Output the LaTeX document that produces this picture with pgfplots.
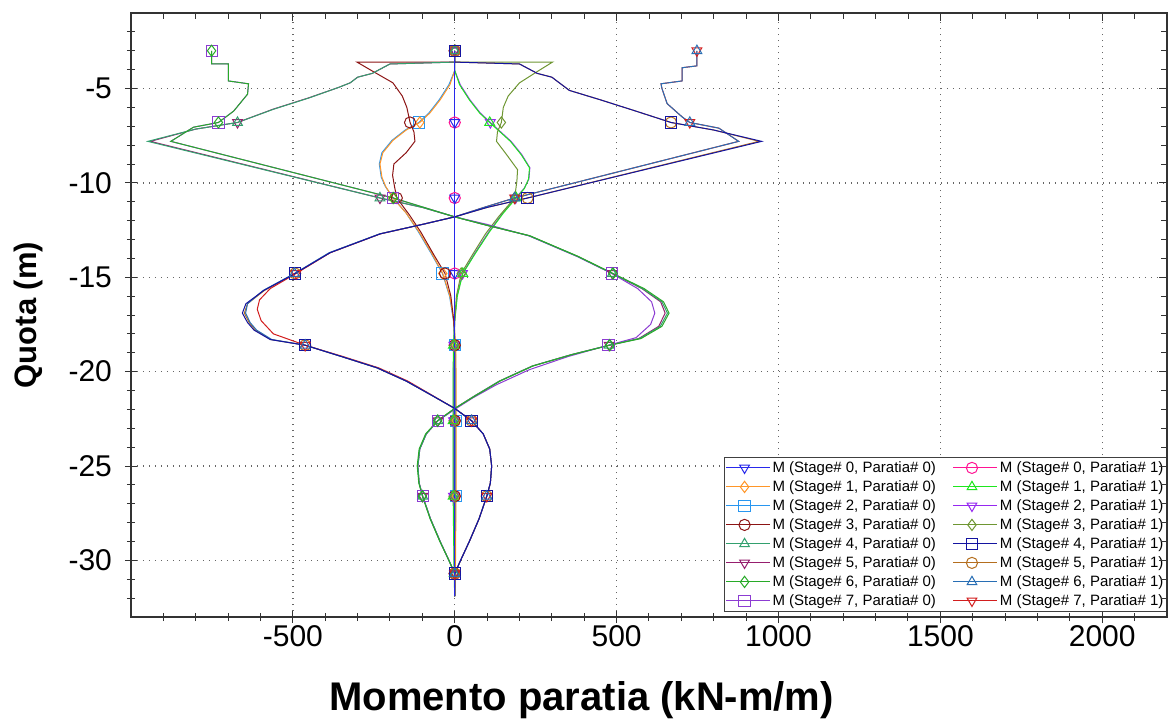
\documentclass[border=0pt]{standalone}
\usepackage{fontspec}
\setmainfont{Liberation Sans}
\usepackage{pgfplots}
\pgfplotsset{compat=1.18}

\definecolor{c0a}{RGB}{40,40,235}
\definecolor{c0b}{RGB}{255,20,147}
\definecolor{c1a}{RGB}{255,150,40}
\definecolor{c1b}{RGB}{30,230,30}
\definecolor{c2a}{RGB}{40,150,240}
\definecolor{c2b}{RGB}{150,40,240}
\definecolor{c3a}{RGB}{140,20,20}
\definecolor{c3b}{RGB}{110,150,50}
\definecolor{c4a}{RGB}{50,160,110}
\definecolor{c4b}{RGB}{20,20,160}
\definecolor{c5a}{RGB}{150,30,110}
\definecolor{c5b}{RGB}{180,110,30}
\definecolor{c6a}{RGB}{40,170,40}
\definecolor{c6b}{RGB}{40,110,180}
\definecolor{c7a}{RGB}{140,60,210}
\definecolor{c7b}{RGB}{210,30,30}

\pgfplotsset{
  ln/.style={no marks, forget plot, line width=0.5pt},
  mk/.style={only marks, forget plot, mark size=2.8pt, line width=0.5pt, mark options={solid, fill=none}},
  tdown/.style={mark=triangle, every mark/.append style={rotate=180}},
  lg/.style={line width=0.5pt, mark size=2.8pt, mark options={solid, fill=none}},
}

\begin{document}
\begin{tikzpicture}
\begin{axis}[
  scale only axis, width=518pt, height=302pt,
  xmin=-1000, xmax=2200, ymin=-33, ymax=-1,
  xtick={-500,0,500,1000,1500,2000},
  ytick={-30,-25,-20,-15,-10,-5},
  minor xtick={-900,-800,...,2100},
  minor ytick={-32,-31,...,-2},
  xtick pos=left, ytick pos=left, tick align=center,
  major tick length=6pt, minor tick length=4pt,
  tick style={black!80, line width=0.5pt},
  axis line style={black!80, line width=0.7pt},
  grid=major,
  major grid style={black!60, line width=0.7pt, dash pattern=on 0.7pt off 2.3pt},
  ticklabel style={font=\fontsize{15}{17}\selectfont},
  /pgf/number format/assume math mode=true,
  /pgf/number format/1000 sep={},
  yticklabel style={xshift=-3pt},
  xticklabel shift=-2.4pt,
  xlabel={\textbf{Momento paratia (kN-m/m)}},
  ylabel={\textbf{Quota (m)}},
  xlabel style={at={(axis description cs:0.435,-0.138)}, anchor=center, font=\fontsize{20}{22}\selectfont},
  ylabel style={at={(axis description cs:-0.0994,0.5)}, anchor=center, font=\fontsize{15.5}{18}\selectfont},
  legend columns=2,
  legend cell align=left,
  legend image code/.code={\path (0pt,0pt) -- (22pt,0pt); \draw[mark repeat=2,mark phase=2] plot coordinates {(0pt,0pt) (9.25pt,0pt) (18.5pt,0pt)};},
  legend style={at={(1,0)}, anchor=south east, yshift=2.5pt, draw=black!75, line width=0.6pt, fill=white,
    font=\fontsize{7.5}{9}\selectfont, inner xsep=0.5pt, inner ysep=0.5pt,
    nodes={inner xsep=1pt, inner ysep=1pt, text height=6pt, text depth=1.5pt}, row sep=0pt,
    /tikz/every even column/.append style={column sep=7.5pt}},
]
% ---------------- lines ----------------
\addplot[ln, c0b] coordinates {(0,-3) (0,-31.9)};
\addplot[ln, c2a] coordinates {(0,-3) (0,-4.05) (-18,-4.8) (-48,-5.6) (-80,-6.3) (-111,-6.8) (-153,-7.2) (-194,-7.75) (-225,-8.4) (-233,-9.0) (-227,-9.7) (-214,-10.2) (-190,-10.8) (-150,-11.6) (-112,-12.6) (-74,-13.7) (-38,-14.8) (-16,-16.0) (-4,-17.3) (2,-18.6) (3,-20) (3,-26.6) (1,-30.7) (0,-31.9)};
\addplot[ln, c1a] coordinates {(0,-3) (0,-4.05) (-15,-4.8) (-45,-5.6) (-77,-6.3) (-108,-6.8) (-150,-7.2) (-191,-7.75) (-222,-8.4) (-231,-9.0) (-225,-9.7) (-213,-10.2) (-191,-10.8) (-150,-11.6) (-110,-12.6) (-72,-13.7) (-37,-14.8) (-15,-16.0) (-3,-17.3) (3,-18.6) (4,-20) (4,-26.6) (2,-30.7) (0,-31.9)};
\addplot[ln, c3a] coordinates {(0,-3) (0,-3.6) (-302,-3.6) (-262,-4.0) (-191,-4.7) (-162,-5.4) (-148,-6.0) (-138,-6.8) (-126,-7.3) (-123,-7.8) (-150,-8.4) (-188,-9.0) (-192,-9.6) (-186,-10.2) (-179,-10.8) (-140,-11.7) (-105,-12.6) (-65,-13.8) (-30,-14.8) (-12,-16.0) (-3,-17.3) (0,-18.6) (0,-31.9)};
\addplot[ln, c2b] coordinates {(0,-3) (0,-4.05) (17,-4.8) (47,-5.6) (79,-6.3) (110,-6.8) (142,-7.3) (174,-7.8) (207,-8.5) (232,-9.2) (229,-9.8) (214,-10.3) (188,-10.8) (148,-11.6) (105,-12.6) (63,-13.7) (24,-14.8) (7,-16.0) (0,-17.3) (-3,-18.6) (-4,-20) (-4,-26.6) (-1,-30.7) (0,-31.9)};
\addplot[ln, c1b] coordinates {(0,-3) (0,-4.05) (15,-4.8) (45,-5.6) (77,-6.3) (108,-6.8) (140,-7.3) (172,-7.8) (205,-8.5) (231,-9.2) (228,-9.8) (215,-10.3) (190,-10.8) (150,-11.6) (107,-12.6) (65,-13.7) (25,-14.8) (8,-16.0) (0,-17.3) (-4,-18.6) (-5,-20) (-5,-26.6) (-2,-30.7) (0,-31.9)};
\addplot[ln, c3b] coordinates {(0,-3) (0,-3.6) (302,-3.6) (255,-4.1) (200,-4.7) (165,-5.4) (150,-6.0) (144,-6.8) (132,-7.3) (129,-7.8) (160,-8.5) (194,-9.3) (192,-9.9) (185,-10.8) (135,-11.8) (95,-12.7) (55,-13.8) (20,-14.8) (5,-16.0) (0,-17.3) (0,-31.9)};
% big P0
\addplot[ln, c5a] coordinates {(0,-3) (0,-3.6) (-200,-3.7) (-255,-4.2) (-300,-4.4) (-323,-4.7) (-360,-4.95) (-452,-5.5) (-562,-6.1) (-671,-6.8) (-800,-7.15) (-940,-7.8) (-231,-10.8) (-100,-11.3) (0,-11.8) (100,-12.25) (230,-12.8) (380,-13.9) (487,-14.8) (578,-15.6) (636,-16.3) (650,-16.9) (630,-17.6) (568,-18.25) (477,-18.6) (360,-19.1) (240,-19.7) (138,-20.5) (60,-21.3) (0,-21.95) (-52,-22.6) (-88,-23.3) (-108,-24.1) (-114,-25.0) (-110,-25.9) (-99,-26.6) (-75,-27.8) (-45,-29.0) (-18,-30.0) (0,-30.7) (0,-31.9)};
\addplot[ln, c7a] coordinates {(-751,-3) (-751,-3.7) (-699,-3.7) (-699,-4.6) (-637,-4.75) (-640,-5.3) (-683,-6.2) (-730,-6.8) (-807,-7.05) (-877,-7.8) (-190,-10.8) (-95,-11.3) (0,-11.8) (100,-12.2) (228,-12.8) (378,-13.9) (485,-14.8) (565,-15.6) (608,-16.3) (618,-16.9) (605,-17.5) (560,-18.2) (475,-18.6) (350,-19.2) (230,-19.9) (128,-20.7) (55,-21.4) (0,-22.0) (-52,-22.6) (-88,-23.3) (-108,-24.1) (-114,-25.0) (-110,-25.9) (-99,-26.6) (-75,-27.8) (-45,-29.0) (-18,-30.0) (0,-30.7) (0,-31.9)};
\addplot[ln, c4a] coordinates {(0,-3) (0,-3.6) (-200,-3.7) (-255,-4.2) (-300,-4.4) (-323,-4.7) (-360,-4.95) (-450,-5.5) (-560,-6.1) (-671,-6.8) (-800,-7.15) (-948,-7.8) (-231,-10.8) (-100,-11.3) (0,-11.8) (100,-12.25) (230,-12.8) (380,-13.9) (487,-14.8) (580,-15.6) (640,-16.3) (657,-16.9) (635,-17.6) (570,-18.25) (477,-18.6) (360,-19.1) (240,-19.7) (138,-20.5) (60,-21.3) (0,-21.95) (-52,-22.6) (-88,-23.3) (-108,-24.1) (-114,-25.0) (-110,-25.9) (-99,-26.6) (-75,-27.8) (-45,-29.0) (-18,-30.0) (0,-30.7) (0,-31.9)};
\addplot[ln, c6a] coordinates {(-751,-3) (-751,-3.7) (-699,-3.7) (-699,-4.6) (-637,-4.75) (-640,-5.3) (-683,-6.2) (-730,-6.8) (-807,-7.05) (-877,-7.8) (-190,-10.8) (-95,-11.3) (0,-11.8) (100,-12.25) (232,-12.8) (382,-13.9) (489,-14.8) (585,-15.6) (645,-16.3) (662,-16.9) (640,-17.6) (575,-18.25) (479,-18.6) (362,-19.1) (242,-19.7) (140,-20.5) (62,-21.3) (0,-21.95) (-53,-22.6) (-90,-23.3) (-110,-24.1) (-116,-25.0) (-111,-25.9) (-100,-26.6) (-76,-27.8) (-46,-29.0) (-18,-30.0) (0,-30.7) (0,-31.9)};
% big P1
\addplot[ln, c5b] coordinates {(0,-3) (0,-3.6) (200,-3.7) (255,-4.2) (300,-4.4) (323,-4.7) (354,-5.1) (450,-5.6) (560,-6.2) (668,-6.8) (800,-7.2) (940,-7.8) (225,-10.8) (100,-11.3) (0,-11.8) (-100,-12.2) (-230,-12.7) (-385,-13.7) (-493,-14.8) (-588,-15.7) (-640,-16.4) (-650,-16.9) (-635,-17.4) (-616,-17.8) (-568,-18.3) (-462,-18.6) (-350,-19.2) (-240,-19.8) (-150,-20.5) (-77,-21.2) (0,-21.95) (52,-22.6) (88,-23.3) (108,-24.1) (114,-25.0) (110,-25.9) (99,-26.6) (75,-27.8) (45,-29.0) (18,-30.0) (0,-30.7) (0,-31.9)};
\addplot[ln, c7b] coordinates {(748,-3) (748,-3.8) (702,-3.9) (702,-4.6) (637,-4.75) (640,-5.0) (656,-5.8) (702,-6.5) (726,-6.8) (816,-7.1) (877,-7.8) (185,-10.8) (90,-11.3) (0,-11.8) (-100,-12.2) (-230,-12.7) (-385,-13.7) (-490,-14.8) (-570,-15.6) (-603,-16.2) (-610,-16.7) (-598,-17.3) (-560,-18.0) (-462,-18.6) (-345,-19.2) (-235,-19.8) (-145,-20.5) (-75,-21.2) (0,-21.95) (52,-22.6) (88,-23.3) (108,-24.1) (114,-25.0) (110,-25.9) (99,-26.6) (75,-27.8) (45,-29.0) (18,-30.0) (0,-30.7) (0,-31.9)};
\addplot[ln, c6b] coordinates {(748,-3) (748,-3.8) (702,-3.9) (702,-4.6) (637,-4.75) (640,-5.0) (656,-5.8) (702,-6.5) (726,-6.8) (816,-7.1) (877,-7.8) (185,-10.8) (90,-11.3) (0,-11.8) (-100,-12.2) (-232,-12.7) (-388,-13.7) (-495,-14.8) (-592,-15.7) (-640,-16.4) (-646,-16.9) (-632,-17.4) (-612,-17.8) (-565,-18.3) (-462,-18.6) (-350,-19.2) (-240,-19.8) (-150,-20.5) (-77,-21.2) (0,-21.95) (52,-22.6) (88,-23.3) (108,-24.1) (114,-25.0) (110,-25.9) (99,-26.6) (75,-27.8) (45,-29.0) (18,-30.0) (0,-30.7) (0,-31.9)};
\addplot[ln, c4b] coordinates {(0,-3) (0,-3.6) (200,-3.7) (255,-4.2) (300,-4.4) (323,-4.7) (354,-5.1) (450,-5.6) (560,-6.2) (668,-6.8) (800,-7.2) (948,-7.8) (225,-10.8) (100,-11.3) (0,-11.8) (-100,-12.2) (-230,-12.7) (-385,-13.7) (-493,-14.8) (-590,-15.7) (-645,-16.4) (-656,-16.9) (-640,-17.4) (-620,-17.8) (-570,-18.3) (-462,-18.6) (-350,-19.2) (-240,-19.8) (-150,-20.5) (-77,-21.2) (0,-21.95) (52,-22.6) (88,-23.3) (108,-24.1) (114,-25.0) (110,-25.9) (99,-26.6) (75,-27.8) (45,-29.0) (18,-30.0) (0,-30.7) (0,-31.9)};
\addplot[ln, c0a] coordinates {(0,-3) (0,-31.9)};
% ---------------- marks ----------------
\addplot[mk, c0b, mark=o] coordinates {(0,-3)(0,-6.8)(0,-10.8)(0,-14.8)(0,-18.6)(0,-22.6)(0,-26.6)(0,-30.7)};
\addplot[mk, c0a, tdown] coordinates {(0,-3)(0,-6.8)(0,-10.8)(0,-14.8)(0,-18.6)(0,-22.6)(0,-26.6)(0,-30.7)};
\addplot[mk, c2a, mark=square] coordinates {(0,-3)(-111,-6.8)(-190,-10.8)(-38,-14.8)(2,-18.6)(3,-22.6)(3,-26.6)(1,-30.7)};
\addplot[mk, c1a, mark=diamond] coordinates {(0,-3)(-108,-6.8)(-191,-10.8)(-37,-14.8)(3,-18.6)(4,-22.6)(4,-26.6)(2,-30.7)};
\addplot[mk, c3a, mark=o] coordinates {(0,-3)(-138,-6.8)(-179,-10.8)(-30,-14.8)(0,-18.6)(0,-22.6)(0,-26.6)(0,-30.7)};
\addplot[mk, c2b, tdown] coordinates {(0,-3)(110,-6.8)(188,-10.8)(24,-14.8)(-3,-18.6)(-4,-22.6)(-4,-26.6)(-1,-30.7)};
\addplot[mk, c1b, mark=triangle] coordinates {(0,-3)(108,-6.8)(190,-10.8)(25,-14.8)(-4,-18.6)(-5,-22.6)(-5,-26.6)(-2,-30.7)};
\addplot[mk, c3b, mark=diamond] coordinates {(0,-3)(144,-6.8)(185,-10.8)(20,-14.8)(0,-18.6)(0,-22.6)(0,-26.6)(0,-30.7)};
\addplot[mk, c5a, tdown] coordinates {(0,-3)(-671,-6.8)(-231,-10.8)(487,-14.8)(477,-18.6)(-52,-22.6)(-99,-26.6)(0,-30.7)};
\addplot[mk, c4a, mark=triangle] coordinates {(0,-3)(-671,-6.8)(-231,-10.8)(487,-14.8)(477,-18.6)(-52,-22.6)(-99,-26.6)(0,-30.7)};
\addplot[mk, c7a, mark=square] coordinates {(-751,-3)(-730,-6.8)(-190,-10.8)(485,-14.8)(475,-18.6)(-52,-22.6)(-99,-26.6)(0,-30.7)};
\addplot[mk, c6a, mark=diamond] coordinates {(-751,-3)(-730,-6.8)(-190,-10.8)(489,-14.8)(479,-18.6)(-53,-22.6)(-100,-26.6)(0,-30.7)};
\addplot[mk, c5b, mark=o] coordinates {(0,-3)(668,-6.8)(225,-10.8)(-493,-14.8)(-462,-18.6)(52,-22.6)(99,-26.6)(0,-30.7)};
\addplot[mk, c4b, mark=square] coordinates {(0,-3)(668,-6.8)(225,-10.8)(-493,-14.8)(-462,-18.6)(52,-22.6)(99,-26.6)(0,-30.7)};
\addplot[mk, c7b, tdown] coordinates {(748,-3)(726,-6.8)(185,-10.8)(-490,-14.8)(-462,-18.6)(52,-22.6)(99,-26.6)(0,-30.7)};
\addplot[mk, c6b, mark=triangle] coordinates {(748,-3)(726,-6.8)(185,-10.8)(-495,-14.8)(-462,-18.6)(52,-22.6)(99,-26.6)(0,-30.7)};
% ---------------- legend ----------------
\addlegendimage{lg, c0a, tdown}\addlegendentry{M (Stage\# 0, Paratia\# 0)}
\addlegendimage{lg, c0b, mark=o}\addlegendentry{M (Stage\# 0, Paratia\# 1)}
\addlegendimage{lg, c1a, mark=diamond}\addlegendentry{M (Stage\# 1, Paratia\# 0)}
\addlegendimage{lg, c1b, mark=triangle}\addlegendentry{M (Stage\# 1, Paratia\# 1)}
\addlegendimage{lg, c2a, mark=square}\addlegendentry{M (Stage\# 2, Paratia\# 0)}
\addlegendimage{lg, c2b, tdown}\addlegendentry{M (Stage\# 2, Paratia\# 1)}
\addlegendimage{lg, c3a, mark=o}\addlegendentry{M (Stage\# 3, Paratia\# 0)}
\addlegendimage{lg, c3b, mark=diamond}\addlegendentry{M (Stage\# 3, Paratia\# 1)}
\addlegendimage{lg, c4a, mark=triangle}\addlegendentry{M (Stage\# 4, Paratia\# 0)}
\addlegendimage{lg, c4b, mark=square}\addlegendentry{M (Stage\# 4, Paratia\# 1)}
\addlegendimage{lg, c5a, tdown}\addlegendentry{M (Stage\# 5, Paratia\# 0)}
\addlegendimage{lg, c5b, mark=o}\addlegendentry{M (Stage\# 5, Paratia\# 1)}
\addlegendimage{lg, c6a, mark=diamond}\addlegendentry{M (Stage\# 6, Paratia\# 0)}
\addlegendimage{lg, c6b, mark=triangle}\addlegendentry{M (Stage\# 6, Paratia\# 1)}
\addlegendimage{lg, c7a, mark=square}\addlegendentry{M (Stage\# 7, Paratia\# 0)}
\addlegendimage{lg, c7b, tdown}\addlegendentry{M (Stage\# 7, Paratia\# 1)}
\end{axis}
\begin{axis}[
  scale only axis, width=518pt, height=302pt,
  xmin=-1000, xmax=2200, ymin=-33, ymax=-1,
  xtick={-500,0,500,1000,1500,2000},
  ytick={-30,-25,-20,-15,-10,-5},
  minor xtick={-900,-800,...,2100},
  minor ytick={-32,-31,...,-2},
  xtick pos=right, ytick pos=right, tick align=inside,
  major tick length=4pt, minor tick length=3pt,
  tick style={black!80, line width=0.5pt},
  axis line style={black!80, line width=0.7pt},
  xticklabels={}, yticklabels={},
]
\end{axis}
\pgfresetboundingbox
\path[use as bounding box] (current axis.south west) ++(-65.5pt,-51.5pt) rectangle ++(584.5pt,360pt);
\end{tikzpicture}
\end{document}
